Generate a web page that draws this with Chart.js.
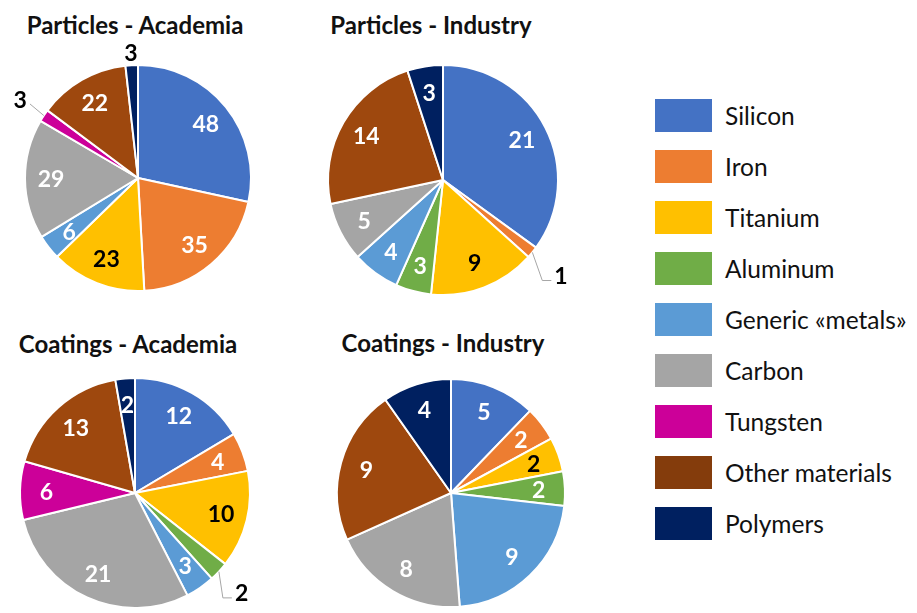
<!DOCTYPE html>
<html>
<head>
<meta charset="utf-8">
<script src="https://cdn.jsdelivr.net/npm/chart.js@4.4.0/dist/chart.umd.min.js"></script>
<style>
    body { margin: 0; width: 917px; height: 613px; overflow: hidden; background: #fff; position: relative; font-family: Lato, "Open Sans", sans-serif; }
    .pie { position: absolute; width: 320px; height: 320px; }
    .title { position: absolute; font-weight: bold; font-size: 24px; color: #111; white-space: nowrap; transform: translate(-50%, -50%); }
    #legend { position: absolute; left: 655px; top: 98px; }
    .item { display: flex; align-items: center; height: 51.1px; }
    .item .box { width: 57px; height: 33px; margin-right: 13px; margin-top: -17px; }
    .item span { font-size: 24.5px; color: #111; margin-top: -17px; white-space: nowrap; }
</style>
</head>
<body>
<div class="title" style="left:135px;top:24px">Particles - Academia</div>
<div class="title" style="left:431px;top:24px">Particles - Industry</div>
<div class="title" style="left:128px;top:343px">Coatings - Academia</div>
<div class="title" style="left:443px;top:342px">Coatings - Industry</div>
<div class="pie" style="left:-22px;top:18px"><canvas id="pa" width="320" height="320"></canvas></div>
<div class="pie" style="left:283px;top:20px"><canvas id="pi" width="320" height="320"></canvas></div>
<div class="pie" style="left:-25px;top:333px"><canvas id="ca" width="320" height="320"></canvas></div>
<div class="pie" style="left:291px;top:333px"><canvas id="ci" width="320" height="320"></canvas></div>
<div id="legend"></div>
<script>
const categories = ['Silicon', 'Iron', 'Titanium', 'Aluminum', 'Generic «metals»', 'Carbon', 'Tungsten', 'Other materials', 'Polymers'];
const particlesAcademia = [48, 35, 23, 0, 6, 29, 3, 22, 3];
const particlesIndustry = [21, 1, 9, 3, 4, 5, 0, 14, 3];
const coatingsAcademia = [12, 4, 10, 2, 3, 21, 6, 13, 2];
const coatingsIndustry = [5, 2, 2, 2, 9, 8, 0, 9, 4];

const colors = ['#4472C4', '#ED7D31', '#FFC000', '#70AD47', '#5B9BD5', '#A5A5A5', '#CC0099', '#9E480E', '#002060'];
const legendColors = ['#4472C4', '#ED7D31', '#FFC000', '#70AD47', '#5B9BD5', '#A5A5A5', '#CC0099', '#843C0C', '#002060'];
const darkText = [2]; // titanium labels are black

// value labels inside slices, a few small ones pushed outside
const sliceLabels = {
    id: 'sliceLabels',
    afterDatasetsDraw(chart, args, opts) {
        const ctx = chart.ctx;
        const meta = chart.getDatasetMeta(0);
        const values = chart.data.datasets[0].data;
        const outside = opts.outside || {};
        ctx.save();
        ctx.font = 'bold 23px Lato';
        ctx.textAlign = 'center';
        ctx.textBaseline = 'middle';
        meta.data.forEach((arc, i) => {
            const v = values[i];
            if (!v) return;
            const p = arc.getProps(['x', 'y', 'startAngle', 'endAngle', 'outerRadius'], true);
            const mid = (p.startAngle + p.endAngle) / 2;
            const out = outside[i];
            const k = out ? out.dist : 0.77;
            const lx = p.x + Math.cos(mid) * p.outerRadius * k;
            const ly = p.y + Math.sin(mid) * p.outerRadius * k;
            const w = ctx.measureText(String(v)).width;
            if (out && out.leader) {
                const ex = p.x + Math.cos(mid) * p.outerRadius;
                const ey = p.y + Math.sin(mid) * p.outerRadius;
                ctx.strokeStyle = '#A6A6A6';
                ctx.lineWidth = 1;
                ctx.beginPath();
                ctx.moveTo(ex, ey);
                if (out.leader === 'elbow') {
                    ctx.lineTo(lx - w / 2 - 12, ly + 5);
                    ctx.lineTo(lx - w / 2 - 3, ly + 5);
                } else {
                    ctx.lineTo(lx + w / 2 + 3, ly + 4);
                }
                ctx.stroke();
            }
            ctx.fillStyle = (out || darkText.includes(i)) ? '#000' : '#fff';
            ctx.fillText(String(v), lx, ly + 1);
        });
        ctx.restore();
    }
};

const makePie = (id, values, radius, outside) => {
    new Chart(document.getElementById(id), {
        type: 'pie',
        data: {
            labels: categories,
            datasets: [{
                data: values,
                backgroundColor: colors,
                borderColor: '#fff',
                borderWidth: 2,
                radius: radius
            }]
        },
        options: {
            responsive: false,
            animation: false,
            layout: { padding: 0 },
            plugins: {
                legend: { display: false },
                tooltip: { enabled: false },
                sliceLabels: { outside: outside }
            }
        },
        plugins: [sliceLabels]
    });
};

makePie('pa', particlesAcademia, 113, { 6: { dist: 1.25, leader: 'line' }, 8: { dist: 1.11 } });
makePie('pi', particlesIndustry, 115, { 1: { dist: 1.32, leader: 'elbow' } });
makePie('ca', coatingsAcademia, 115, { 3: { dist: 1.27, leader: 'elbow' } });
makePie('ci', coatingsIndustry, 114, {});

const legend = document.getElementById('legend');
categories.forEach((name, i) => {
    legend.insertAdjacentHTML('beforeend', `
        <div class="item"><div class="box" style="background:${legendColors[i]}"></div><span>${name}</span></div>
    `);
});
</script>
</body>
</html>
